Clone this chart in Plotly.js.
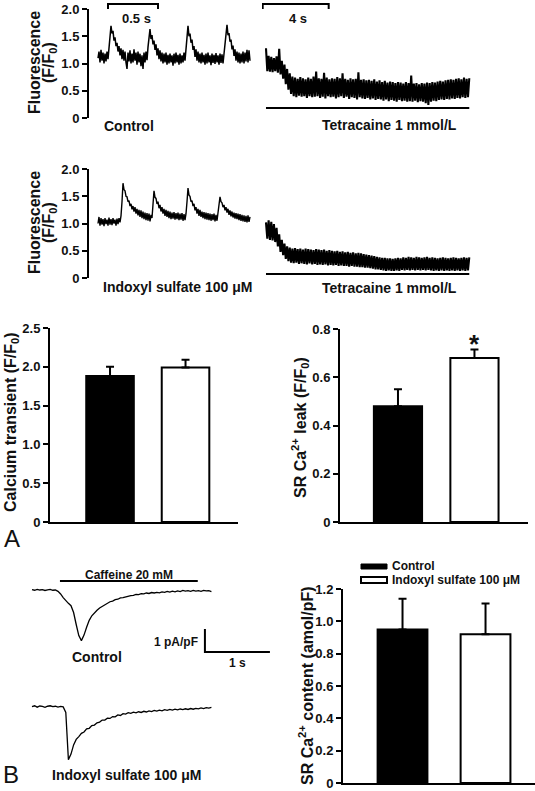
<!DOCTYPE html>
<html>
<head>
<meta charset="utf-8">
<script src="https://cdn.plot.ly/plotly-3.0.1.min.js"></script>
<style>html,body{margin:0;padding:0;background:#fff;}#chart{width:535px;height:791px;}</style>
</head>
<body>
<div id="chart"></div>
<script>
// ---------------- DATA ----------------
// Fluorescence (F/F0), field stimulation, sampled every 0.01 s
const fluorControl = [1.10,1.22,1.02,1.25,1.05,1.20,1.00,1.18,1.04,1.22,1.08,
1.30,1.52,1.69,1.55,1.60,1.42,1.48,1.32,1.38,1.22,1.32,1.15,1.28,1.08,1.25,1.05,1.22,1.02,0.90,
1.20,1.04,1.24,1.00,1.18,1.02,1.26,1.05,1.20,0.98,1.22,1.02,1.18,0.95,1.15,0.90,1.20,1.02,1.22,1.06,
1.30,1.50,1.63,1.45,1.52,1.35,1.42,1.25,1.35,1.15,1.28,1.08,1.24,1.04,1.20,1.00,1.18,1.02,1.20,0.98,
1.16,1.00,1.18,1.02,1.15,0.96,1.18,1.00,1.20,1.02,1.16,0.98,1.18,1.00,1.15,1.02,1.20,1.05,1.28,1.52,
1.69,1.50,1.55,1.38,1.44,1.25,1.32,1.12,1.26,1.05,1.22,1.02,1.18,1.00,1.20,1.02,1.16,0.98,1.18,1.00,
1.20,1.02,1.15,0.97,1.18,1.01,1.16,0.99,1.19,1.02,1.15,0.98,1.18,1.01,1.17,1.00,1.20,1.30,1.55,1.71,
1.52,1.56,1.40,1.44,1.26,1.33,1.14,1.26,1.05,1.22,1.02,1.20,1.00,1.18,1.02,1.22,1.00,1.20,1.04,1.25,
1.02,1.24,1.05];
const fluorIndoxyl = [1.00,1.12,0.96,1.10,0.98,1.08,0.95,1.10,0.99,1.07,0.96,1.11,0.98,1.08,0.97,1.10,1.00,1.07,0.96,1.09,0.99,1.10,1.02,1.14,
1.40,1.74,1.62,1.60,1.50,1.49,1.40,1.42,1.32,1.36,1.26,1.32,1.22,1.30,1.18,1.27,1.15,1.25,1.12,1.24,1.10,1.22,1.08,1.20,1.06,1.19,
1.05,1.18,1.04,1.16,1.10,1.35,1.60,1.48,1.46,1.36,1.40,1.28,1.34,1.22,1.30,1.18,1.27,1.14,1.25,1.12,
1.23,1.10,1.22,1.08,1.20,1.09,1.21,1.07,1.19,1.08,1.20,1.06,1.18,1.07,1.19,1.05,1.17,1.06,1.18,1.40,
1.65,1.52,1.50,1.40,1.42,1.32,1.36,1.24,1.30,1.18,1.27,1.14,1.25,1.12,1.22,1.10,1.21,1.08,1.20,1.07,
1.19,1.06,1.18,1.05,1.17,1.06,1.18,1.04,1.16,1.05,1.17,1.30,1.49,1.40,1.38,1.30,1.34,1.24,1.30,1.20,
1.27,1.16,1.24,1.13,1.22,1.11,1.20,1.09,1.19,1.08,1.18,1.06,1.17,1.05,1.16,1.04,1.15,1.03,1.14,1.02,
1.15,1.03,1.12];
// Fluorescence (F/F0) under tetracaine 1 mmol/L, sampled every 0.08 s
const tetraControl = [1.28,0.86,1.14,0.85,1.12,0.84,1.10,0.86,1.13,0.83,
1.27,0.80,1.05,0.72,0.98,0.62,0.90,0.52,0.82,0.44,
0.76,0.40,0.74,0.38,0.72,0.41,0.75,0.39,0.73,0.40,
0.71,0.37,0.74,0.40,0.72,0.38,0.76,0.39,0.85,0.40,
0.73,0.37,0.72,0.39,0.83,0.36,0.74,0.40,0.71,0.38,
0.73,0.39,0.72,0.36,0.75,0.38,0.73,0.40,0.82,0.37,
0.72,0.39,0.70,0.35,0.73,0.38,0.71,0.37,0.72,0.34,
0.84,0.38,0.70,0.36,0.71,0.35,0.69,0.37,0.70,0.34,
0.68,0.36,0.71,0.33,0.67,0.35,0.69,0.34,0.66,0.32,
0.68,0.34,0.65,0.31,0.67,0.33,0.66,0.32,0.64,0.30,
0.66,0.33,0.65,0.31,0.63,0.32,0.66,0.30,0.64,0.31,
0.78,0.30,0.63,0.32,0.64,0.29,0.62,0.31,0.64,0.30,
0.63,0.27,0.65,0.24,0.64,0.30,0.66,0.32,0.65,0.31,
0.67,0.33,0.68,0.34,0.67,0.33,0.69,0.35,0.70,0.34,
0.71,0.36,0.70,0.35,0.72,0.37,0.73,0.36,0.71,0.38,
0.74,0.37,0.72,0.38,0.73];
const tetraIndoxyl = [1.02,0.72,1.06,0.70,1.03,0.69,0.99,0.66,0.92,0.58,
0.80,0.48,0.70,0.42,0.63,0.35,0.58,0.31,0.56,0.28,
0.54,0.27,0.55,0.28,0.53,0.26,0.54,0.27,0.52,0.26,
0.54,0.25,0.53,0.27,0.52,0.25,0.51,0.26,0.53,0.24,
0.52,0.25,0.51,0.24,0.52,0.25,0.50,0.23,0.51,0.24,
0.50,0.23,0.49,0.24,0.50,0.22,0.48,0.23,0.49,0.22,
0.47,0.22,0.48,0.21,0.46,0.22,0.47,0.21,0.45,0.21,
0.46,0.20,0.45,0.20,0.44,0.19,0.43,0.19,0.42,0.18,
0.41,0.17,0.40,0.16,0.39,0.16,0.38,0.15,0.37,0.14,
0.37,0.13,0.36,0.14,0.36,0.13,0.35,0.13,0.36,0.14,
0.37,0.13,0.36,0.15,0.38,0.14,0.37,0.15,0.39,0.14,
0.38,0.15,0.37,0.14,0.39,0.15,0.38,0.14,0.37,0.15,
0.38,0.14,0.39,0.15,0.37,0.14,0.38,0.13,0.37,0.14,
0.36,0.13,0.37,0.14,0.38,0.13,0.37,0.14,0.36,0.13,
0.37,0.14,0.38,0.13,0.37,0.14,0.36,0.13,0.37,0.14,
0.38,0.13,0.37,0.14,0.38];
// Caffeine-induced current (pA/pF, relative to baseline), sampled every 0.04 s
const currControl = [0.02,-0.01,0.03,0.00,0.02,-0.02,0.01,0.03,-0.01,0.00,
-0.06,-0.17,-0.33,-0.47,-0.58,-0.68,-0.98,-1.50,-1.98,-2.20,
-1.96,-1.62,-1.32,-1.12,-0.98,-0.88,-0.78,-0.71,-0.62,-0.58,
-0.51,-0.48,-0.42,-0.40,-0.34,-0.33,-0.29,-0.28,-0.24,-0.23,
-0.19,-0.20,-0.16,-0.17,-0.13,-0.15,-0.11,-0.13,-0.10,-0.12,
-0.08,-0.10,-0.06,-0.09,-0.05,-0.08,-0.04,-0.07,-0.02,-0.05,
-0.03,-0.06,-0.02,-0.05,-0.03,-0.06,-0.02,-0.04,-0.03,-0.07];
const currIndoxyl = [0.00,0.04,-0.02,0.03,0.01,-0.03,0.02,0.04,0.00,0.02,
-0.02,0.01,-0.01,-0.25,-2.30,-2.06,-1.66,-1.42,-1.30,-1.16,
-1.10,-0.96,-0.94,-0.82,-0.80,-0.70,-0.67,-0.58,-0.58,-0.50,
-0.51,-0.43,-0.44,-0.36,-0.38,-0.30,-0.32,-0.26,-0.29,-0.24,
-0.27,-0.22,-0.25,-0.20,-0.23,-0.18,-0.21,-0.16,-0.19,-0.15,
-0.18,-0.13,-0.16,-0.12,-0.15,-0.11,-0.14,-0.10,-0.13,-0.09,
-0.12,-0.08,-0.11,-0.07,-0.09,-0.05,-0.08,-0.04,-0.06,-0.03];
// Bar summaries
const groups = ['Control', 'Indoxyl sulfate 100 μM'];
const calciumTransient = [1.88, 1.99];
const calciumTransientErr = [0.12, 0.10];
const srLeak = [0.48, 0.68];
const srLeakErr = [0.07, 0.035];
const srContent = [0.95, 0.92];
const srContentErr = [0.19, 0.19];
// Tick labels
const fluorTicks = [0, 0.5, 1.0, 1.5, 2.0];
const fluorTickText = ['0', '0.5', '1.0', '1.5', '2.0'];
const ctTicks = [0, 0.5, 1.0, 1.5, 2.0, 2.5];
const ctTickText = ['0', '0.5', '1.0', '1.5', '2.0', '2.5'];
const leakTicks = [0, 0.2, 0.4, 0.6, 0.8];
const leakTickText = ['0', '0.2', '0.4', '0.6', '0.8'];
const contentTicks = [0, 0.2, 0.4, 0.6, 0.8, 1.0, 1.2];
const contentTickText = ['0', '0.2', '0.4', '0.6', '0.8', '1.0', '1.2'];

// ---------------- LAYOUT HELPERS ----------------
const W = 535, H = 791;
const X = p => p / W;
const Y = p => 1 - p / H;
const FONT = 'Liberation Sans, Arial, Helvetica, sans-serif';
const barColors = ['#000000', '#ffffff'];
const TXT = '#111';

const yStyle = (ticks, text) => ({
  showline: true, linecolor: '#000', linewidth: 2,
  ticks: 'outside', ticklen: 5, tickwidth: 2, tickcolor: '#000',
  tickvals: ticks, ticktext: text,
  tickfont: {size: 13, family: FONT, color: TXT, weight: 'bold'},
  showgrid: false, zeroline: false, fixedrange: true
});
const xBarStyle = {
  showline: true, linecolor: '#000', linewidth: 2, ticks: '', showticklabels: false,
  showgrid: false, zeroline: false, fixedrange: true, type: 'category'
};
const hidden = {visible: false, showgrid: false, zeroline: false, fixedrange: true};

const lineTrace = (y, dx, xa, ya, w) => ({
  type: 'scatter', mode: 'lines', y: y, x0: 0, dx: dx,
  xaxis: xa, yaxis: ya, line: {color: '#000', width: w}, hoverinfo: 'skip'
});
const barTrace = (vals, errs, xa, ya, width) => ({
  type: 'bar', x: groups, y: vals, width: width, xaxis: xa, yaxis: ya,
  marker: {color: barColors, line: {color: '#000', width: 2}},
  error_y: {type: 'data', symmetric: false, array: errs, arrayminus: errs.map(() => 0),
            color: '#000', thickness: 2, width: 4},
  hoverinfo: 'skip'
});

const data = [
  lineTrace(fluorControl, 0.01, 'x', 'y', 1.5),
  lineTrace(fluorIndoxyl, 0.01, 'x', 'y3', 1.4),
  lineTrace(tetraControl, 0.08, 'x2', 'y2', 2.1),
  lineTrace(tetraIndoxyl, 0.08, 'x2', 'y4', 2.1),
  lineTrace(currControl, 0.04, 'x6', 'y8', 1.3),
  lineTrace(currIndoxyl, 0.04, 'x6', 'y9', 1.3),
  barTrace(calciumTransient, calciumTransientErr, 'x3', 'y5', 0.63),
  barTrace(srLeak, srLeakErr, 'x4', 'y6', 0.63),
  barTrace(srContent, srContentErr, 'x5', 'y7', 0.6)
];

const ann = (text, x, y, size, opts, weight) => Object.assign({
  text: text, xref: 'paper', yref: 'paper', x: X(x), y: Y(y), showarrow: false,
  xanchor: 'center', yanchor: 'middle',
  font: {size: size, family: FONT, color: TXT, weight: weight || 'bold'}
}, opts || {});
const rot = {textangle: -90};

const annotations = [
  ann('Fluorescence', 34, 63, 16, rot),
  ann('(F/F<sub>0</sub>)', 49, 63, 16, rot),
  ann('Fluorescence', 34, 223, 16, rot),
  ann('(F/F<sub>0</sub>)', 49, 223, 16, rot),
  ann('0.5 s', 136, 18, 13),
  ann('4 s', 298, 18, 13),
  ann('Control', 129, 126, 14),
  ann('Tetracaine 1 mmol/L', 389, 125, 14),
  ann('Indoxyl sulfate 100 μM', 177, 287, 14),
  ann('Tetracaine 1 mmol/L', 389, 288, 14),
  ann('Calcium transient (F/F<sub>0</sub>)', 11, 422, 16, rot),
  ann('SR Ca<sup>2+</sup> leak (F/F<sub>0</sub>)', 300, 428, 16, rot),
  ann('*', 474, 344, 26),
  ann('A', 12, 538, 24, null, 'normal'),
  ann('Caffeine 20 mM', 129, 575, 12),
  ann('1 pA/pF', 200, 642, 12, {xanchor: 'right'}),
  ann('1 s', 237, 663, 12),
  ann('Control', 97, 657, 14),
  ann('Indoxyl sulfate 100 μM', 126, 775, 14),
  ann('B', 11, 774, 24, null, 'normal'),
  ann('SR Ca<sup>2+</sup> content (amol/pF)', 306, 686, 16, rot),
  ann('Control', 390, 566, 12, {xanchor: 'left'}),
  ann('Indoxyl sulfate 100 μM', 390, 580, 12, {xanchor: 'left'})
];

const blackLine = {color: '#000', width: 2};
const shapes = [
  // 0.5 s scale bracket
  {type: 'path', xref: 'x', yref: 'paper', line: blackLine,
   path: `M 0.10 ${Y(9)} L 0.10 ${Y(4)} L 0.60 ${Y(4)} L 0.60 ${Y(9)}`},
  // 4 s scale bracket
  {type: 'path', xref: 'x2', yref: 'paper', line: blackLine,
   path: `M -0.2 ${Y(9)} L -0.2 ${Y(4)} L 3.8 ${Y(4)} L 3.8 ${Y(9)}`},
  // tetracaine application bars
  {type: 'line', xref: 'x2', yref: 'paper', x0: 0, x1: 12.32, y0: Y(108), y1: Y(108), line: blackLine},
  {type: 'line', xref: 'x2', yref: 'paper', x0: 0, x1: 12.32, y0: Y(274), y1: Y(274), line: blackLine},
  // caffeine application bar
  {type: 'line', xref: 'x6', yref: 'y8', x0: 0.43, x1: 2.55, y0: 0.39, y1: 0.39, line: blackLine},
  // current scale bar: 1 pA/pF, 1 s
  {type: 'path', xref: 'x6', yref: 'y8', line: blackLine,
   path: 'M 2.66 -1.70 L 2.66 -2.70 L 3.66 -2.70'},
  // legend swatches
  {type: 'rect', xref: 'paper', yref: 'paper', x0: X(361), x1: X(387), y0: Y(569), y1: Y(564),
   fillcolor: '#000', line: {color: '#000', width: 1}},
  {type: 'rect', xref: 'paper', yref: 'paper', x0: X(361), x1: X(387), y0: Y(583), y1: Y(577),
   fillcolor: '#fff', line: {color: '#000', width: 2}}
];

const layout = {
  width: W, height: H, margin: {l: 0, r: 0, t: 0, b: 0},
  paper_bgcolor: '#fff', plot_bgcolor: 'rgba(0,0,0,0)', showlegend: false,
  font: {family: FONT, size: 13, color: TXT},
  bargap: 0,
  xaxis: Object.assign({}, hidden, {domain: [X(89), X(252)], range: [-0.09, 1.54], anchor: 'y'}),
  xaxis2: Object.assign({}, hidden, {domain: [X(262), X(472)], range: [-0.242, 12.485], anchor: 'y2'}),
  xaxis3: Object.assign({}, xBarStyle, {domain: [X(50), X(238)], range: [-0.795, 1.695], anchor: 'y5'}),
  xaxis4: Object.assign({}, xBarStyle, {domain: [X(340), X(528)], range: [-0.758, 1.70], anchor: 'y6'}),
  xaxis5: Object.assign({}, xBarStyle, {domain: [X(343), X(535)], range: [-0.717, 1.596], anchor: 'y7'}),
  xaxis6: Object.assign({}, hidden, {domain: [X(20), X(280)], range: [-0.1846, 3.815], anchor: 'y8'}),
  yaxis: Object.assign(yStyle(fluorTicks, fluorTickText), {domain: [Y(118), Y(9)], range: [0, 2], anchor: 'x'}),
  yaxis2: Object.assign({}, hidden, {domain: [Y(118), Y(9)], range: [0, 2], anchor: 'x2'}),
  yaxis3: Object.assign(yStyle(fluorTicks, fluorTickText), {domain: [Y(278), Y(169)], range: [0, 2], anchor: 'x'}),
  yaxis4: Object.assign({}, hidden, {domain: [Y(278), Y(169)], range: [0, 2], anchor: 'x2'}),
  yaxis5: Object.assign(yStyle(ctTicks, ctTickText), {domain: [Y(522), Y(328)], range: [0, 2.5], anchor: 'x3'}),
  yaxis6: Object.assign(yStyle(leakTicks, leakTickText), {domain: [Y(522), Y(329)], range: [0, 0.8], anchor: 'x4'}),
  yaxis7: Object.assign(yStyle(contentTicks, contentTickText), {domain: [Y(783), Y(589)], range: [0, 1.2], anchor: 'x5'}),
  yaxis8: Object.assign({}, hidden, {domain: [Y(660), Y(570)], range: [-3.043, 0.870], anchor: 'x6'}),
  yaxis9: Object.assign({}, hidden, {domain: [Y(785), Y(690)], range: [-3.404, 0.726], anchor: 'x6'}),
  annotations: annotations,
  shapes: shapes
};

Plotly.newPlot('chart', data, layout, {staticPlot: true, displayModeBar: false});
</script>
</body>
</html>
